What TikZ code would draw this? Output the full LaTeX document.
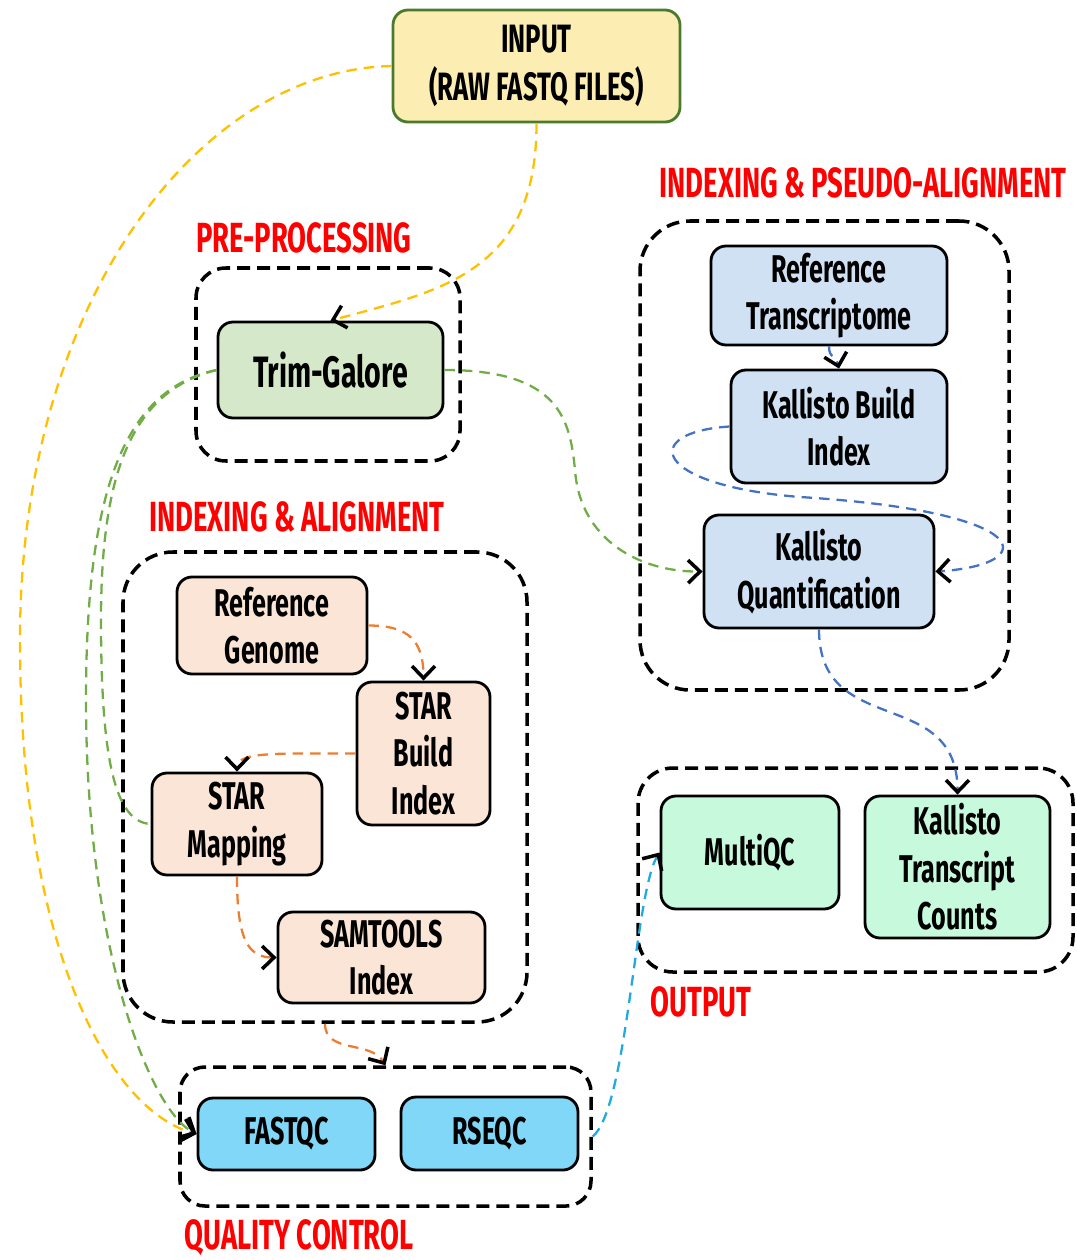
\documentclass[tikz,border=0pt]{standalone}
\usepackage{fontspec}
\setmainfont{Fira Sans}[FakeStretch=0.65]
\usetikzlibrary{arrows.meta}

\definecolor{inputfill}{HTML}{FCEDB3}
\definecolor{inputdraw}{HTML}{4A7A2C}
\definecolor{trimfill}{HTML}{D5E8C9}
\definecolor{pseudofill}{HTML}{CFE1F3}
\definecolor{alignfill}{HTML}{FBE5D6}
\definecolor{outfill}{HTML}{C7F9DD}
\definecolor{qcfill}{HTML}{80D7F7}
\definecolor{titlered}{HTML}{FF0000}
\definecolor{lnyellow}{HTML}{FFC000}
\definecolor{lngreen}{HTML}{70AD47}
\definecolor{lnblue}{HTML}{4472C4}
\definecolor{lnorange}{HTML}{ED7D31}
\definecolor{lncyan}{HTML}{21A9E1}

\begin{document}
\begin{tikzpicture}[x=0.02cm,y=-0.02cm,
  >={Straight Barb[black,length=0.24cm,width=0.46cm,line width=2pt]},
  box/.style={draw=black,line width=1.6pt,rounded corners=0.3cm,align=center,
    inner sep=0pt,font=\fontsize{22}{27}\selectfont\bfseries},
  grp/.style={draw=black,line width=2pt,dash pattern=on 0.26cm off 0.14cm},
  ttl/.style={text=titlered,inner sep=0pt,font=\fontsize{24}{28}\selectfont\bfseries},
  flow/.style={line width=1.3pt,dash pattern=on 0.21cm off 0.14cm}]

  \def\pix{0.02cm}
  \useasboundingbox (0,0) rectangle (1077,1260);

  \begin{scope}   % skupiny a nadpisy

    \node[grp,rounded corners=0.6cm,minimum width=264*\pix,minimum height=193*\pix]
      (gpre) at (328,364.5) {};
    \node[grp,rounded corners=1cm,minimum width=369*\pix,minimum height=469*\pix]
      (gpseudo) at (824.5,455.5) {};
    \node[grp,rounded corners=1cm,minimum width=404*\pix,minimum height=470*\pix]
      (galign) at (325,787) {};
    \node[grp,rounded corners=0.7cm,minimum width=435*\pix,minimum height=204*\pix]
      (gout) at (855.5,870) {};
    \node[grp,rounded corners=0.5cm,minimum width=411*\pix,minimum height=139*\pix]
      (gqc) at (385.5,1136.5) {};

    \node[ttl] (tpre) at (304,238) {PRE-PROCESSING};
    \node[ttl] (tpseudo) at (863,183) {INDEXING \& PSEUDO-ALIGNMENT};
    \node[ttl] (talign) at (297,517) {INDEXING \& ALIGNMENT};
    \node[ttl] (tout) at (701,1002) {OUTPUT};
    \node[ttl] (tqc) at (299,1238) {QUALITY CONTROL};

  \end{scope}

  \begin{scope}   % bloky

    \node[box,fill=inputfill,draw=inputdraw,font=\fontsize{22.5}{27}\selectfont\bfseries,
      minimum width=287*\pix,minimum height=112*\pix] (inp) at (536.5,66)
      {INPUT\\(RAW FASTQ FILES)};

    \node[box,fill=trimfill,font=\fontsize{25}{30}\selectfont\bfseries,
      minimum width=225*\pix,minimum height=96*\pix] (trim) at (330.5,370) {Trim-Galore};

    \node[box,fill=pseudofill,minimum width=236*\pix,minimum height=99*\pix]
      (reft) at (829,295.5) {Reference\\Transcriptome};
    \node[box,fill=pseudofill,minimum width=216*\pix,minimum height=113*\pix]
      (kbi) at (839,426.5) {Kallisto Build\\Index};
    \node[box,fill=pseudofill,minimum width=230*\pix,minimum height=113*\pix]
      (kq) at (819,571.5) {Kallisto\\Quantification};

    \node[box,fill=alignfill,minimum width=190*\pix,minimum height=97*\pix]
      (refg) at (272,625.5) {Reference\\Genome};
    \node[box,fill=alignfill,minimum width=133*\pix,minimum height=143*\pix]
      (starb) at (423.5,753.5) {STAR\\Build\\Index};
    \node[box,fill=alignfill,minimum width=170*\pix,minimum height=102*\pix]
      (starm) at (237,824) {STAR\\Mapping};
    \node[box,fill=alignfill,minimum width=207*\pix,minimum height=91*\pix]
      (sam) at (381.5,957.5) {SAMTOOLS\\Index};

    \node[box,fill=outfill,minimum width=178*\pix,minimum height=113*\pix]
      (mqc) at (750,852.5) {MultiQC};
    \node[box,fill=outfill,minimum width=185*\pix,minimum height=142*\pix]
      (ktc) at (957.5,867) {Kallisto\\Transcript\\Counts};

    \node[box,fill=qcfill,minimum width=177*\pix,minimum height=72*\pix]
      (fqc) at (286.5,1134) {FASTQC};
    \node[box,fill=qcfill,minimum width=177*\pix,minimum height=73*\pix]
      (rqc) at (489.5,1133.5) {RSEQC};

  \end{scope}

  \begin{scope}   % spojnice

    \coordinate (yv) at (20,640);
    \coordinate (gv1) at (86,700);
    \coordinate (gv2) at (101,620);
    \coordinate (gv3) at (575,470);
    \coordinate (bv) at (800,497);

    \draw[flow,lnyellow,->] (inp.south) .. controls +(0,150) and +(110,-30) .. (trim.north);
    \draw[flow,lnyellow,->] (inp.west) .. controls (200,70) and (20,300) .. (yv)
      .. controls (20,950) and (110,1110) .. (fqc.west);

    \draw[flow,lngreen,->] (trim.west) .. controls (120,390) and (86,500) .. (gv1)
      .. controls (86,950) and (150,1110) .. (fqc.west);
    \draw[flow,lngreen] (trim.west) .. controls (128,392) and (101,480) .. (gv2)
      .. controls (101,760) and (115,822) .. (starm.west);
    \draw[flow,lngreen,->] (trim.east) .. controls (560,370) and (570,420) .. (gv3)
      .. controls (580,540) and (640,572) .. (kq.west);

    \draw[flow,lnblue,->] (reft.south) .. controls +(0,12) and +(-3,-12) .. (kbi.north);
    \draw[flow,lnblue,->] (kbi.west) .. controls (640,432) and (650,485) .. (bv)
      .. controls (1040,512) and (1040,565) .. (kq.east);
    \draw[flow,lnblue,->] (kq.south) .. controls +(0,110) and +(0,-110) .. (ktc.north);

    \draw[flow,lnorange,->] (refg.east) .. controls +(40,0) and +(0,-40) .. (starb.north);
    \draw[flow,lnorange,->] (starb.west) .. controls +(-80,0) and +(0,-20) .. (starm.north);
    \draw[flow,lnorange,->] (starm.south) .. controls +(0,60) and +(-30,0) .. (sam.west);
    \draw[flow,lnorange,->] (galign.south) .. controls +(0,30) and +(-15,-25) .. (gqc.north);

    \draw[flow,lncyan,->] (gqc.east) .. controls +(35,-30) and +(-25,40) .. (mqc.west);

  \end{scope}

\end{tikzpicture}
\end{document}
